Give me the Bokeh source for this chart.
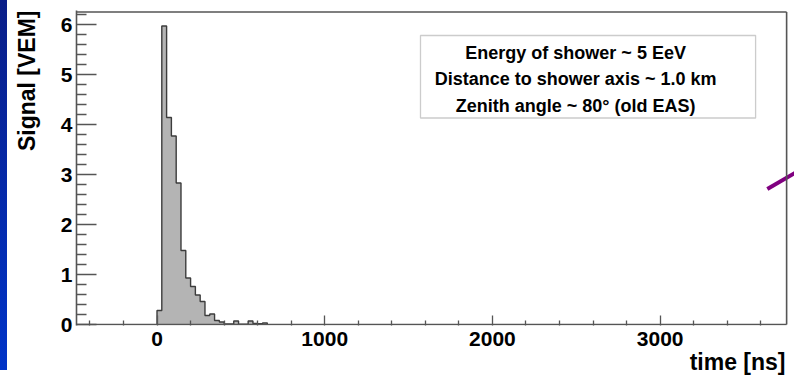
from bokeh.plotting import figure
from bokeh.models import Range1d, FixedTicker, Label, BoxAnnotation, Title, Div
from bokeh.layouts import row
from bokeh.embed import file_html
from bokeh.resources import INLINE

# ---------------- data ----------------
bin_start = 0.0          # ns, left edge of first bin
bin_width = 28.6         # ns
signal = [0.28, 5.97, 4.14, 3.77, 2.83, 1.48, 0.93, 0.76, 0.59, 0.46,
          0.18, 0.21, 0.08, 0.05, 0.01, 0.01, 0.07, 0.005, 0.005, 0.07,
          0.02, 0.015, 0.03]

x_major = [0, 1000, 2000, 3000]
x_minor = [-400, -200, 200, 400, 600, 800, 1200, 1400, 1600, 1800, 2200, 2400,
           2600, 2800, 3200, 3400, 3600]
y_major = [0, 1, 2, 3, 4, 5, 6]
y_minor = [0.2, 0.4, 0.6, 0.8, 1.2, 1.4, 1.6, 1.8, 2.2, 2.4, 2.6, 2.8, 3.2, 3.4,
           3.6, 3.8, 4.2, 4.4, 4.6, 4.8, 5.2, 5.4, 5.6, 5.8, 6.2]

legend_lines = ["Energy of shower ~ 5 EeV",
                "Distance to shower axis ~ 1.0 km",
                "Zenith angle ~ 80\u00b0 (old EAS)"]
x_title = "time [ns]"
y_title = "Signal [VEM]"

# frame extents (data units)
x_lo, x_hi, x_view_hi = -480, 3754, 3801
y_lo, y_hi, y_view_hi = -0.02, 6.25, 6.28

FONT = "Liberation Sans"
FRAME = "#555555"

# ---------------- main figure ----------------
p = figure(width=787, height=379, output_backend="svg", toolbar_location=None,
           x_range=Range1d(x_lo, x_view_hi), y_range=Range1d(y_lo, y_view_hi),
           min_border_left=69, min_border_right=0, min_border_top=10,
           min_border_bottom=54)
p.outline_line_color = None
p.xgrid.visible = False
p.ygrid.visible = False
p.background_fill_color = "white"
p.border_fill_color = "white"

lefts = [bin_start + i * bin_width for i in range(len(signal))]
rights = [l + bin_width for l in lefts]

sx = [lefts[0]]
sy = [0]
for l, r, v in zip(lefts, rights, signal):
    sx += [l, r]
    sy += [v, v]
sx.append(rights[-1])
sy.append(0)
p.patch(sx, sy, fill_color="#b4b4b4", line_color=None)
p.line(sx, sy, line_color="#3c3c3c", line_width=1.4)

# decorative purple stroke at right edge
p.line([3639, 3900], [2.71, 3.22], line_color="#800080", line_width=4)

# frame lines (top, right, bottom)
p.segment(x0=[x_lo, x_hi, x_lo], y0=[y_hi, 0, 0],
          x1=[x_hi, x_hi, x_hi], y1=[y_hi, y_hi, 0],
          line_color=FRAME, line_width=1.6)

# axes
xa = p.xaxis[0]
xa.ticker = FixedTicker(ticks=x_major, minor_ticks=x_minor)
xa.axis_line_color = None
xa.major_tick_in = 10
xa.major_tick_out = 0
xa.minor_tick_in = 5
xa.minor_tick_out = 0
xa.major_tick_line_color = FRAME
xa.minor_tick_line_color = FRAME
xa.major_tick_line_width = 1.3
xa.minor_tick_line_width = 1.3
xa.major_label_standoff = 6
xa.major_label_text_font = FONT
xa.major_label_text_font_style = "bold"
xa.major_label_text_font_size = "21px"
xa.major_label_text_color = "black"

ya = p.yaxis[0]
ya.ticker = FixedTicker(ticks=y_major, minor_ticks=y_minor)
ya.axis_line_color = FRAME
ya.axis_line_width = 1.6
ya.major_tick_in = 20
ya.major_tick_out = 0
ya.minor_tick_in = 10
ya.minor_tick_out = 0
ya.major_tick_line_color = FRAME
ya.minor_tick_line_color = FRAME
ya.major_tick_line_width = 1.3
ya.minor_tick_line_width = 1.3
ya.major_label_standoff = 4
ya.major_label_text_font = FONT
ya.major_label_text_font_style = "bold"
ya.major_label_text_font_size = "21px"
ya.major_label_text_color = "black"
# blank spacer label: widens the axis panel so the title sits further out
ya.axis_label = " "
ya.axis_label_standoff = 2
ya.axis_label_text_font_size = "8px"

# axis titles (ROOT style: aligned to the far end of each axis)
p.add_layout(Title(text=x_title, align="right", offset=9, standoff=0,
                   vertical_align="top",
                   text_font=FONT, text_font_style="bold",
                   text_font_size="23px", text_color="black"), "below")
p.add_layout(Title(text=y_title, align="right", standoff=8,
                   text_font=FONT, text_font_style="bold",
                   text_font_size="23px", text_color="black"), "left")

# legend box
p.add_layout(BoxAnnotation(left=1571, right=3569, top=5.78, bottom=4.13,
                           fill_color="white", fill_alpha=1.0,
                           line_color=FRAME, line_width=1.3))
for txt, yy in zip(legend_lines, [5.44, 4.91, 4.38]):
    p.add_layout(Label(x=2496, y=yy, text=txt, text_align="center",
                       text_baseline="middle", text_font=FONT,
                       text_font_style="bold", text_font_size="18px",
                       text_color="black"))

# ---------------- blue strip on the left ----------------
strip = Div(text="", width=7, height=370, margin=0,
            styles={"background": "linear-gradient(#0a1e88, #0034c8)"})

layout = row(strip, p, spacing=0)
open("out.html", "w").write(file_html(layout, INLINE))
